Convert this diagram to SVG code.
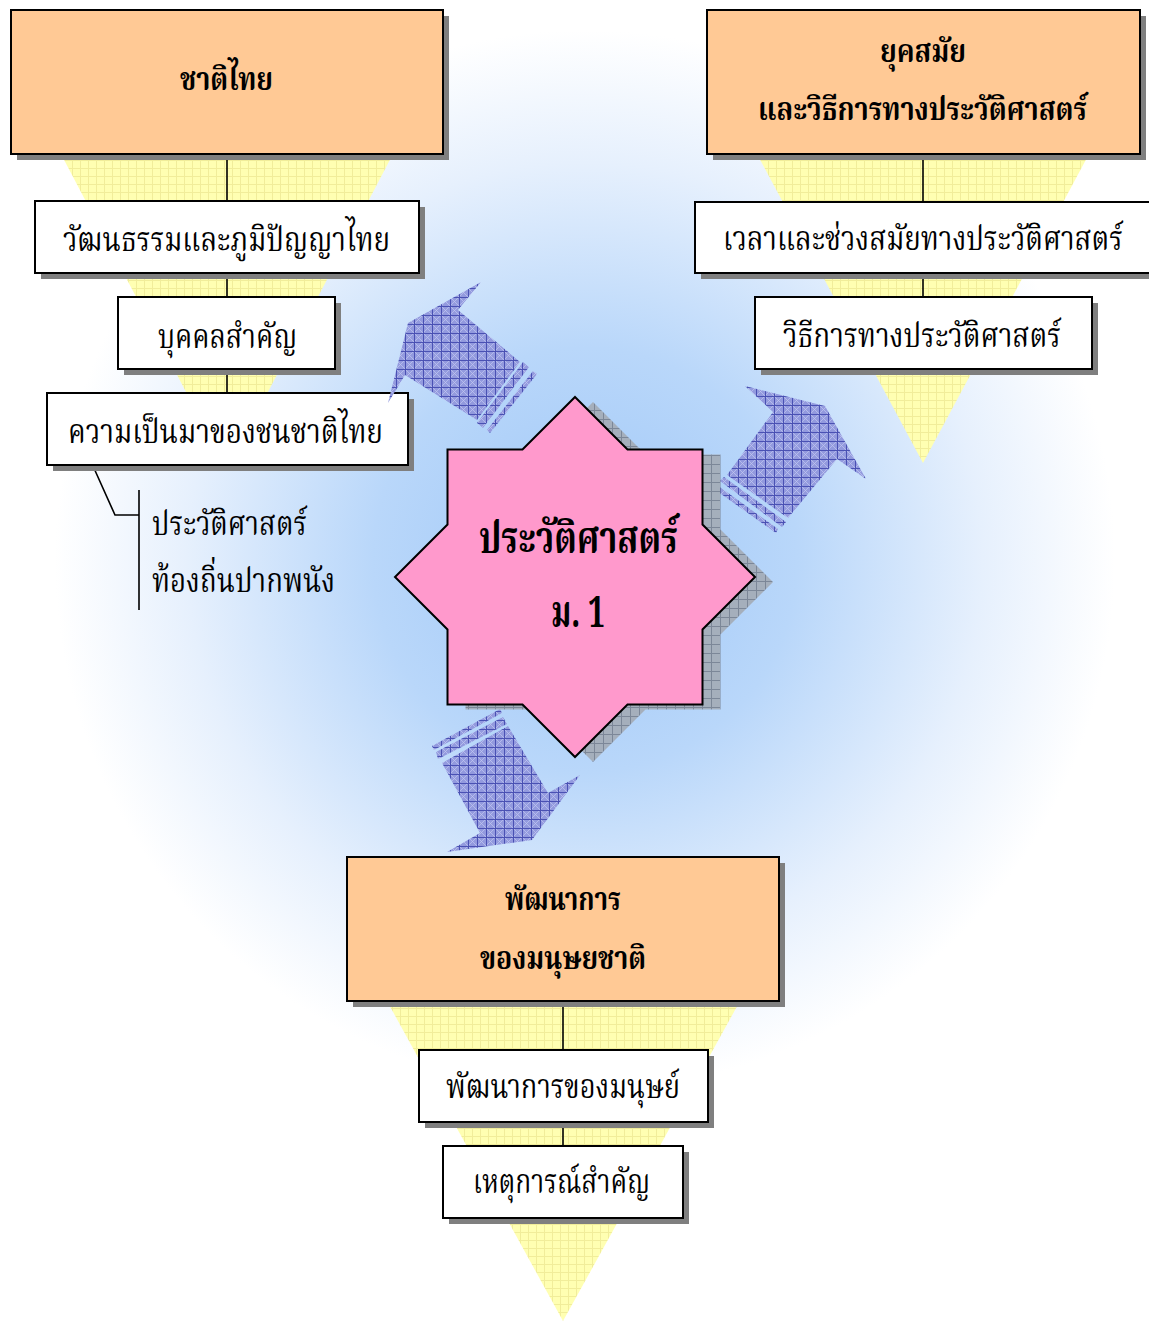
<svg xmlns="http://www.w3.org/2000/svg" width="1149" height="1321" viewBox="0 0 1149 1321">
<style>
.t{font-family:"Noto Serif Thai","Noto Sans Thai","Liberation Serif","DejaVu Serif",serif;fill:#000}
.r{font-size:34px}
.b{font-size:32px;font-weight:bold}
.s{font-size:44px;font-weight:bold}
.box{stroke:#000;stroke-width:2}
.or{fill:#ffc995}
.wh{fill:#fff}
.sh{fill:#7f7f7f}
.ln{stroke:#000;stroke-width:1.6;fill:none}
</style>
<defs>
<radialGradient id="bg" gradientUnits="userSpaceOnUse" cx="585" cy="560" r="530">
<stop offset="0" stop-color="#9fc7f7"/>
<stop offset="0.4" stop-color="#b9d7fa"/>
<stop offset="0.75" stop-color="#e6f0fd"/>
<stop offset="1" stop-color="#ffffff"/>
</radialGradient>
<pattern id="yel" width="8" height="8" patternUnits="userSpaceOnUse">
<rect width="8" height="8" fill="#ffffb2"/>
<path d="M0 0.5H8M0.5 0V8" stroke="#f1ed9a" stroke-width="1"/>
</pattern>
<pattern id="blu" width="9" height="9" patternUnits="userSpaceOnUse">
<rect width="9" height="9" fill="#939ade"/>
<path d="M0 0L9 9M9 0L0 9" stroke="#c3c7f0" stroke-width="0.7"/>
<path d="M0 0.5H9M0.5 0V9" stroke="#4a51b3" stroke-width="1"/>
</pattern>
<pattern id="gry" width="9" height="9" patternUnits="userSpaceOnUse">
<rect width="9" height="9" fill="#a5afbc"/>
<path d="M0 0.5H9M0.5 0V9" stroke="#7c8798" stroke-width="1"/>
</pattern>
</defs>
<rect width="1149" height="1321" fill="url(#bg)"/>
<g id="funnels">
<polygon points="61,154 393,154 227,470" fill="url(#yel)"/>
<polygon points="757,154 1089,154 923,463" fill="url(#yel)"/>
<polygon points="387,1001 740,1001 563,1321" fill="url(#yel)"/>
</g>
<g id="connectors">
<path class="ln" d="M227 154V201M227 273V297M227 369V393"/>
<path class="ln" d="M923 154V202M923 273V297"/>
<path class="ln" d="M563 1001V1050M563 1122V1146"/>
<path class="ln" d="M93 466L115 515H139M139 490V610"/>
</g>
<g id="node-chatthai">
<rect class="sh" x="17" y="16" width="432" height="144"/>
<rect class="box or" x="11" y="10" width="432" height="144"/>
<text class="t b" x="180" y="90" textLength="93" lengthAdjust="spacingAndGlyphs">ชาติไทย</text>
</g>
<g id="node-watthanatham">
<rect class="sh" x="41" y="207" width="384" height="72"/>
<rect class="box wh" x="35" y="201" width="384" height="72"/>
<text class="t r" x="63" y="251" textLength="327" lengthAdjust="spacingAndGlyphs">วัฒนธรรมและภูมิปัญญาไทย</text>
</g>
<g id="node-bukkhon">
<rect class="sh" x="124" y="303" width="217" height="72"/>
<rect class="box wh" x="118" y="297" width="217" height="72"/>
<text class="t r" x="158" y="348" textLength="139" lengthAdjust="spacingAndGlyphs">บุคคลสำคัญ</text>
</g>
<g id="node-khwampenma">
<rect class="sh" x="53" y="399" width="361" height="72"/>
<rect class="box wh" x="47" y="393" width="361" height="72"/>
<text class="t r" x="68" y="443" textLength="315" lengthAdjust="spacingAndGlyphs">ความเป็นมาของชนชาติไทย</text>
</g>
<g id="node-local">
<text class="t r" x="152" y="535" textLength="155" lengthAdjust="spacingAndGlyphs">ประวัติศาสตร์</text>
<text class="t r" x="152" y="592" textLength="183" lengthAdjust="spacingAndGlyphs">ท้องถิ่นปากพนัง</text>
</g>
<g id="node-yuksamai">
<rect class="sh" x="713" y="16" width="433" height="144"/>
<rect class="box or" x="707" y="10" width="433" height="144"/>
<text class="t b" x="880" y="62" textLength="86" lengthAdjust="spacingAndGlyphs">ยุคสมัย</text>
<text class="t b" x="758" y="120" textLength="329" lengthAdjust="spacingAndGlyphs">และวิธีการทางประวัติศาสตร์</text>
</g>
<g id="node-wela">
<rect class="sh" x="701" y="208" width="470" height="71"/>
<rect class="box wh" x="695" y="202" width="470" height="71"/>
<text class="t r" x="723" y="250" textLength="400" lengthAdjust="spacingAndGlyphs">เวลาและช่วงสมัยทางประวัติศาสตร์</text>
</g>
<g id="node-withikan">
<rect class="sh" x="761" y="303" width="337" height="72"/>
<rect class="box wh" x="755" y="297" width="337" height="72"/>
<text class="t r" x="783" y="347" textLength="278" lengthAdjust="spacingAndGlyphs">วิธีการทางประวัติศาสตร์</text>
</g>
<g id="node-phatthanakan">
<rect class="sh" x="353" y="863" width="432" height="144"/>
<rect class="box or" x="347" y="857" width="432" height="144"/>
<text class="t b" x="505" y="910" textLength="116" lengthAdjust="spacingAndGlyphs">พัฒนาการ</text>
<text class="t b" x="480" y="969" textLength="166" lengthAdjust="spacingAndGlyphs">ของมนุษยชาติ</text>
</g>
<g id="node-manut">
<rect class="sh" x="425" y="1056" width="289" height="72"/>
<rect class="box wh" x="419" y="1050" width="289" height="72"/>
<text class="t r" x="446" y="1098" textLength="234" lengthAdjust="spacingAndGlyphs">พัฒนาการของมนุษย์</text>
</g>
<g id="node-hetkan">
<rect class="sh" x="449" y="1152" width="240" height="72"/>
<rect class="box wh" x="443" y="1146" width="240" height="72"/>
<text class="t r" x="473" y="1193" textLength="177" lengthAdjust="spacingAndGlyphs">เหตุการณ์สำคัญ</text>
</g>
<g id="arrows" fill="url(#blu)">
<polygon points="481,282 458,310 520,362 477,420 405,375 388,403 408,323"/>
<polygon points="523,362 529,367 483,428 477,423"/>
<polygon points="533,371 537,374 490,433 487,430"/>
<polygon points="745,386 825,406 866,479 837,459 788,518 727,475 773,412"/>
<polygon points="724,477 786,522 782,527 720,481"/>
<polygon points="717,485 778,529 776,533 714,489"/>
<polygon points="442,763 508,726 548,793 580,775 532,840 447,852 480,833"/>
<polygon points="436,752 503,717 507,724 438,759"/>
<polygon points="432,746 500,709 502,713 434,750"/>
</g>
<g id="node-center">
<polygon fill="url(#gry)" transform="translate(18,5)" points="575,397 627.5,449.5 702.5,449.5 702.5,524.5 755,577 702.5,629.5 702.5,704.5 627.5,704.5 575,757 522.5,704.5 447.5,704.5 447.5,629.5 395,577 447.5,524.5 447.5,449.5 522.5,449.5"/>
<polygon fill="#ff99cc" stroke="#000" stroke-width="2" points="575,397 627.5,449.5 702.5,449.5 702.5,524.5 755,577 702.5,629.5 702.5,704.5 627.5,704.5 575,757 522.5,704.5 447.5,704.5 447.5,629.5 395,577 447.5,524.5 447.5,449.5 522.5,449.5"/>
<text class="t s" x="479" y="553" textLength="199" lengthAdjust="spacingAndGlyphs">ประวัติศาสตร์</text>
<text class="t s" x="551" y="627" textLength="54" lengthAdjust="spacingAndGlyphs">ม. 1</text>
</g>
</svg>
